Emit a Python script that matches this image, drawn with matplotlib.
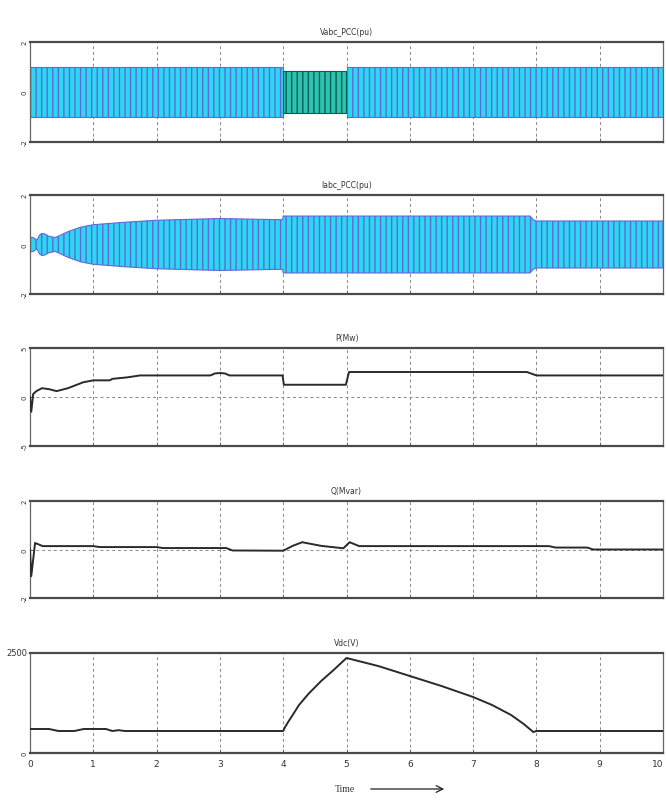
import numpy as np
import matplotlib
matplotlib.use('Agg')
import matplotlib.pyplot as plt

# envelopes of the three-phase waves (pu)
v_t = [0.0, 3.995, 4.0, 4.995, 5.0, 10.0]
v_amp = [1.0, 1.0, 0.85, 0.85, 1.0, 1.0]

i_t = [0.0, 0.05, 0.11, 0.15, 0.19, 0.24, 0.3, 0.4, 0.5, 0.6, 0.8, 1.0, 1.5, 2.0, 3.0, 3.99, 4.0,
       7.9, 7.95, 8.0, 10.0]
i_amp = [0.3, 0.28, 0.18, 0.38, 0.45, 0.42, 0.33, 0.28, 0.4, 0.52, 0.7, 0.8, 0.9, 0.98, 1.05, 1.0, 1.15,
         1.15, 1.0, 0.95, 0.95]

# active power P (MW)
p_t = [0.0, 0.02, 0.05, 0.1, 0.19, 0.3, 0.42, 0.6, 0.84, 1.0, 1.26, 1.3, 1.53, 1.74, 2.0, 2.85, 2.92,
       3.0, 3.08, 3.15, 3.99, 4.01, 4.99, 5.04, 7.85, 8.0, 10.0]
p_val = [0.0, -1.5, 0.3, 0.6, 0.9, 0.8, 0.6, 0.9, 1.5, 1.7, 1.7, 1.85, 2.0, 2.2, 2.2, 2.2, 2.4,
         2.45, 2.4, 2.2, 2.2, 1.25, 1.25, 2.55, 2.55, 2.2, 2.2]

# reactive power Q (Mvar)
q_t = [0.0, 0.02, 0.08, 0.2, 1.0, 1.1, 2.0, 2.1, 3.1, 3.2, 4.0, 4.15, 4.3, 4.6, 4.95, 5.05, 5.2,
       8.2, 8.3, 8.8, 8.9, 10.0]
q_val = [0.0, -1.1, 0.27, 0.14, 0.14, 0.1, 0.1, 0.06, 0.06, -0.04, -0.05, 0.15, 0.3, 0.15, 0.05, 0.3, 0.14,
         0.14, 0.08, 0.08, 0.0, 0.0]

# DC link voltage (V)
vdc_t = [0.0, 0.3, 0.45, 0.7, 0.85, 1.2, 1.3, 1.4, 1.5, 4.0, 4.03, 4.08, 4.15, 4.25, 4.4, 4.6, 4.8, 5.0,
         5.5, 6.0, 6.5, 7.0, 7.3, 7.6, 7.8, 7.95, 8.0, 10.0]
vdc_val = [600, 600, 550, 550, 600, 600, 550, 570, 550, 550, 650, 780, 950, 1200, 1480, 1800, 2080, 2375,
           2175, 1925, 1675, 1400, 1200, 950, 725, 525, 550, 550]

titles = ['Vabc_PCC(pu)', 'Iabc_PCC(pu)', 'P(Mw)', 'Q(Mvar)', 'Vdc(V)']

fig = plt.figure(figsize=(6.66, 8.03), dpi=100)
W, H = 666.0, 803.0
left, right = 30, 663
boxes = [(43, 143), (196, 295), (349, 447), (502, 599), (654, 754)]
axes = []
for top, bot in boxes:
    ax = fig.add_axes([left / W, 1 - bot / H, (right - left) / W, (bot - top) / H])
    axes.append(ax)

cyan = '#2ad8f4'
purple = '#6666d6'

def style(ax, ylim, yticks, ylabels, title):
    ax.set_xlim(0, 10)
    ax.set_ylim(*ylim)
    ax.set_xticks(range(11))
    ax.set_yticks(yticks)
    ax.set_yticklabels(ylabels, rotation=90, va='center', fontsize=5, color='#333333')
    ax.tick_params(axis='both', direction='in', length=3, width=0.6, color='#555555', pad=2)
    ax.tick_params(axis='x', labelbottom=False)
    ax.grid(True, color='#888888', linestyle=(0, (3, 3)), linewidth=0.7)
    ax.set_axisbelow(True)
    for s in ['top', 'bottom']:
        ax.spines[s].set_linewidth(1.6)
        ax.spines[s].set_color('#4a4a4a')
    for s in ['left', 'right']:
        ax.spines[s].set_linewidth(0.9)
        ax.spines[s].set_color('#666666')
    ax.set_title(title, fontsize=5.5, color='#333333', pad=6, family='Liberation Sans Narrow')

# voltage band
ax = axes[0]
vt = np.array(v_t)
va = np.array(v_amp)
normal = (vt < 3.999) | (vt > 4.999)
ax.fill_between(vt, -va, va, where=normal, facecolor=cyan, edgecolor=purple, hatch='|||', linewidth=0.8,
                interpolate=False, zorder=2)
mid = (vt >= 3.999) & (vt <= 4.999)
ax.fill_between(vt, -va, va, where=mid, facecolor='#2cc4b0', edgecolor='#0b5e52', hatch='|||', linewidth=0.8,
                zorder=2)
style(ax, (-2, 2), [-2, 0, 2], ['-2', '0', '2'], titles[0])

# current band
ax = axes[1]
ia = np.array(i_amp)
ax.fill_between(i_t, -ia, ia, facecolor=cyan, edgecolor=purple, hatch='|||', linewidth=0.8, zorder=2)
style(ax, (-2, 2), [-2, 0, 2], ['-2', '0', '2'], titles[1])

# P
ax = axes[2]
ax.plot(p_t, p_val, color='#2a2a2a', linewidth=1.4, zorder=3)
style(ax, (-5, 5), [-5, 0, 5], ['-5', '0', '5'], titles[2])

# Q
ax = axes[3]
ax.plot(q_t, q_val, color='#2a2a2a', linewidth=1.4, zorder=3)
style(ax, (-2, 2), [-2, 0, 2], ['-2', '0', '2'], titles[3])

# Vdc
ax = axes[4]
ax.plot(vdc_t, vdc_val, color='#2a2a2a', linewidth=1.4, zorder=3)
style(ax, (0, 2500), [0, 2500], ['0', '2500'], titles[4])
ax.set_yticklabels(['0', '2500'], rotation=0, fontsize=6, color='#333333')
ax.get_yticklabels()[0].set_rotation(90)
ax.get_yticklabels()[0].set_fontsize(5)
ax.get_yticklabels()[1].set_va('center')
ax.tick_params(axis='x', labelbottom=True, labelsize=6.5, labelcolor='#333333', pad=4)
ax.get_xticklabels()[-1].set_ha('right')

fig.text(345 / W, 1 - 790 / H, 'Time', fontsize=7, ha='center', va='center', color='#333333',
         family='Liberation Serif')
fig.add_artist(matplotlib.patches.FancyArrowPatch((368 / W, 1 - 790 / H), (447 / W, 1 - 790 / H),
                                                  transform=fig.transFigure, arrowstyle='->',
                                                  mutation_scale=12, color='#222222', linewidth=0.9))

fig.savefig('out.png', dpi=100)
plt.close(fig)
